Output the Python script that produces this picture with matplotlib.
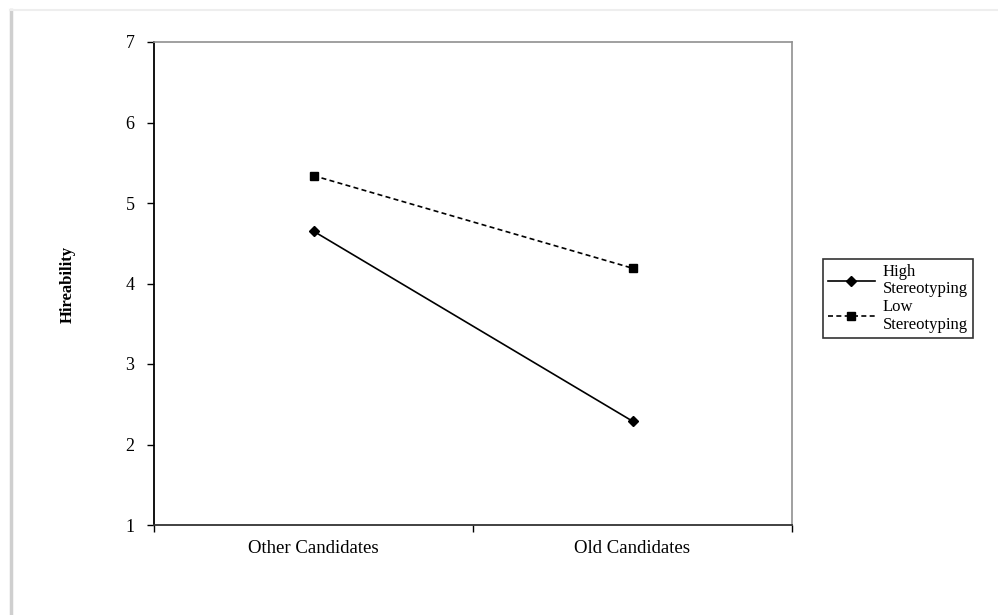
import matplotlib
matplotlib.use("Agg")
import matplotlib.pyplot as plt
from matplotlib.lines import Line2D

categories = ["Other Candidates", "Old Candidates"]
high_stereotyping = [4.65, 2.29]
low_stereotyping = [5.34, 4.19]
yticks = [1, 2, 3, 4, 5, 6, 7]

plt.rcParams['font.family'] = ['Liberation Serif', 'DejaVu Serif']

fig = plt.figure(figsize=(9.98, 6.15), dpi=100)
W, H = 998, 615
ax = fig.add_axes([154 / W, 1 - 525 / H, (792 - 154) / W, (525 - 42) / H])

x = list(range(len(categories)))
l1, = ax.plot(x, high_stereotyping, color='black', lw=1.2, marker='D', ms=5,
              label="High\nStereotyping")
l2, = ax.plot(x, low_stereotyping, color='black', lw=1.2, ls=(0, (3, 2)), marker='s', ms=6,
              label="Low\nStereotyping")

ax.set_xlim(-0.5, 1.5)
ax.set_ylim(1, 7)
ax.set_yticks(yticks)
ax.set_yticklabels([str(v) for v in yticks], fontsize=13)
ax.set_xticks(x)
ax.set_xticklabels(categories, fontsize=13.5)
ax.tick_params(axis='x', which='major', length=0, pad=11)
ax.set_xticks([-0.5, 0.5, 1.5], minor=True)
ax.tick_params(axis='x', which='minor', length=5, direction='out', width=1)
ax.tick_params(axis='y', length=5, direction='out', width=1, pad=9)

ax.spines['left'].set_color('black')
ax.spines['bottom'].set_color('#333333')
for s in ['left', 'bottom']:
    ax.spines[s].set_linewidth(1.3)
for s in ['top', 'right']:
    ax.spines[s].set_color('#909090')
    ax.spines[s].set_linewidth(1.2)

fig.text(68 / W, 1 - 284 / H, "Hireability", rotation=90, fontsize=12, fontweight='bold',
         ha='center', va='center')

leg = fig.legend(handles=[l1, l2], loc='upper left',
                 bbox_to_anchor=(823 / W, 1 - 259 / H), fontsize=12,
                 frameon=True, fancybox=False, edgecolor='black', handlelength=2.8,
                 handletextpad=0.5, borderpad=0.3, labelspacing=0.12, borderaxespad=0)
leg.get_frame().set_linewidth(1.2)
for t in leg.get_texts():
    t.set_linespacing(1.12)

# page shadow frame
fig.add_artist(Line2D([11 / W, 11 / W], [0, 1 - 10 / H], color='#cfcfcf', lw=2.5,
                      transform=fig.transFigure))
fig.add_artist(Line2D([10 / W, 1], [1 - 10 / H, 1 - 10 / H], color='#eeeeee', lw=1.5,
                      transform=fig.transFigure))

fig.savefig("out.png", dpi=100)
